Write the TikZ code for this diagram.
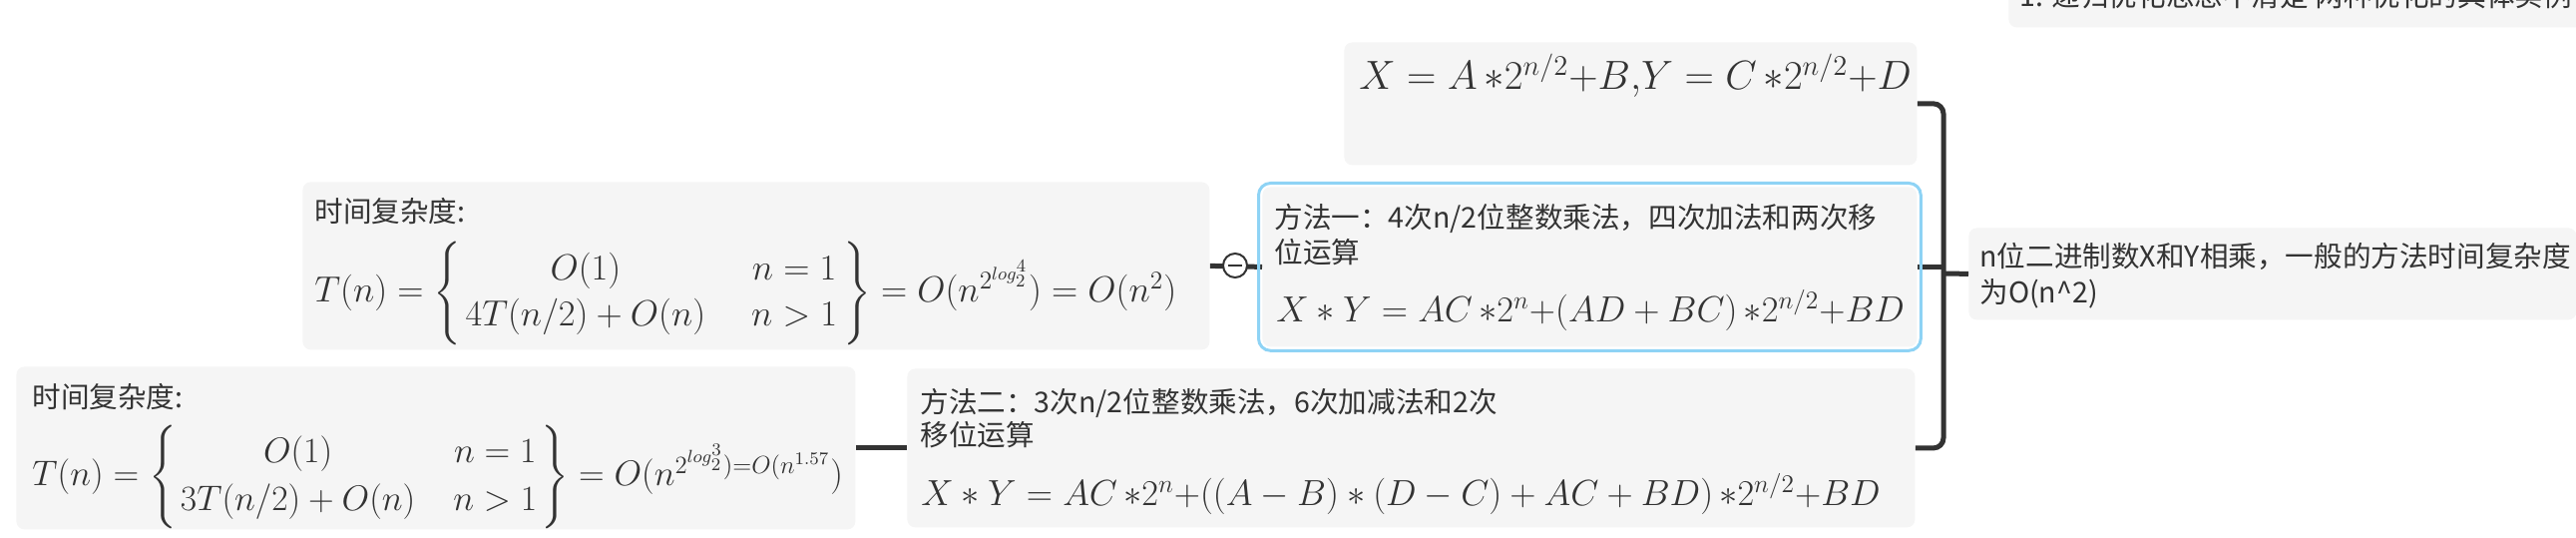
\RequirePackage{fix-cm}
\documentclass[tikz,border=0pt]{standalone}
\usepackage{amsmath}
\usepackage{fontspec}
\newfontfamily\cjk{Noto Sans CJK SC}
\definecolor{boxgrey}{HTML}{F5F5F5}
\definecolor{ink}{HTML}{333333}
\definecolor{selblue}{HTML}{8ED3F5}
\begin{document}
\begin{tikzpicture}[x=0.5pt,y=-0.5pt,
  box/.style={fill=boxgrey, rounded corners=4pt, inner sep=0pt, anchor=north west},
  txt/.style={anchor=base west, inner sep=0pt, text=ink, font=\cjk\fontsize{14.3}{18}\selectfont},
  mth/.style={anchor=base west, inner sep=0pt, text=ink, font=\fontsize{18.2}{21.4}\selectfont},
  smallmth/.style={mth, font=\fontsize{17.8}{21.4}\selectfont},
  bigmth/.style={mth, font=\fontsize{20.4}{24.2}\selectfont},
  conn/.style={draw=ink, line width=2.5pt},
  foldmark/.style={circle, draw=ink, fill=white, line width=1pt, minimum size=12pt, inner sep=0pt},
]
\useasboundingbox (0,0) rectangle (2582,539);
\clip (0,0) rectangle (2582,539);
% boxes
\node[box, minimum width=300pt, minimum height=33.5pt] (top) at (2013,-40) {};
\node[box, minimum width=287pt, minimum height=61.5pt] (xbox) at (1347,42) {};
\node[box, minimum width=328pt, minimum height=80pt] (m1) at (1265,187) {};
\node[box, minimum width=454.5pt, minimum height=84pt] (t1) at (303,182) {};
\node[box, minimum width=420.5pt, minimum height=81.5pt] (t2) at (16,367) {};
\node[box, minimum width=505pt, minimum height=79.5pt] (m2) at (909,369) {};
\node[box, minimum width=304.5pt, minimum height=46pt] (root) at (1973,228) {};
% connectors
\coordinate (bk) at (1948,274);
\draw[conn, rounded corners=5pt] (xbox.east) -| (bk) |- (m2.east);
\draw[conn] (m1.east) -- (m1.east -| bk);
\draw[conn] (bk) -- (root.west);
\draw[conn] (t1.east) -- (m1.west);
\draw[conn] (t2.east) -- (m2.west);
% selection border
\draw[selblue, line width=1.5pt, rounded corners=6pt] ([shift={(-3.5,-3.5)}]m1.north west) rectangle ([shift={(3.5,3.5)}]m1.south east);
% fold marker
\node[foldmark] (fold) at (1238,266) {};
\draw[ink, line width=1pt] ([xshift=-3.5pt]fold.center) -- ([xshift=3.5pt]fold.center);
% texts
\node[txt] (toptext) at (2024,7) {1. 递归优化思想不清楚 两种优化的具体实例};
\node[bigmth] (xf) at (1362,90) {$X = A\,{\ast}2^{n/2}{+}B{,}Y = C\,{\ast}2^{n/2}{+}D$};
\node[txt] (m1a) at (1277,229) {方法一：4次n/2位整数乘法，四次加法和两次移};
\node[txt] (m1b) at (1277,264) {位运算};
\node[mth] (m1f) at (1279,323) {$X \ast Y = AC\,{\ast}2^{n}{+}(AD+BC)\,{\ast}2^{n/2}{+}BD$};
\node[txt] (t1a) at (315,223) {时间复杂度:};
\node[mth] (t1f) at (315,303) {\renewcommand\arraystretch{1.08}$T(n)=\left\{\begin{array}{@{\hspace{2pt}}c@{\hspace{23pt}}c@{\hspace{3pt}}} O(1) & n=1\\ 4T(n/2)+O(n) & n>1\end{array}\right\}=O(n^{2^{log_2^4}})=O(n^2)$};
\node[txt] (t2a) at (32,409) {时间复杂度:};
\node[smallmth] (t2f) at (32,487) {\renewcommand\arraystretch{1.1}$T(n)=\left\{\begin{array}{@{\hspace{2pt}}c@{\hspace{19pt}}c@{\hspace{2pt}}} O(1) & n=1\\ 3T(n/2)+O(n) & n>1\end{array}\right\}=O(n^{2^{log_2^3})=O(n^{1.57}})$};
\node[txt] (m2a) at (922,414) {方法二：3次n/2位整数乘法，6次加减法和2次};
\node[txt] (m2b) at (922,447) {移位运算};
\node[mth] (m2f) at (923,507) {$X\ast Y = AC\,{\ast}2^{n}{+}((A-B)\ast(D-C)+AC+BD)\,{\ast}2^{n/2}{+}BD$};
\node[txt] (r1) at (1984,268) {n位二进制数X和Y相乘，一般的方法时间复杂度};
\node[txt] (r2) at (1984,304) {为O(n\textasciicircum 2)};
\end{tikzpicture}
\end{document}
